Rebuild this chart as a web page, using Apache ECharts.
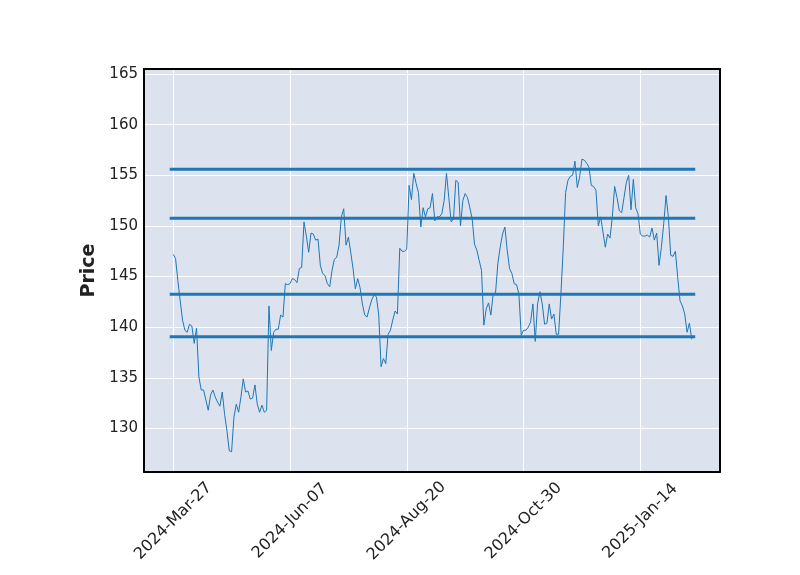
<!DOCTYPE html>
<html>
<head>
<meta charset="utf-8">
<script src="https://cdn.jsdelivr.net/npm/echarts@6/dist/echarts.min.js"></script>
<style>html,body{margin:0;padding:0;background:#fff;}#c{width:800px;height:575px;}</style>
</head>
<body>
<div id="c"></div>
<script>
const prices = [
147.2,146.8,144.6,142.6,140.7,139.7,139.5,140.3,140.1,138.4,
139.9,135.1,133.8,133.8,132.8,131.8,133.3,133.8,133.1,132.6,
132.2,133.6,131.4,129.8,127.8,127.7,131.1,132.4,131.6,133.1,
134.9,133.6,133.7,132.9,133.0,134.3,132.4,131.6,132.3,131.6,
131.8,142.1,137.7,139.5,139.8,139.8,141.2,141.0,144.3,144.2,
144.3,144.8,144.7,144.4,145.8,145.9,150.4,149.0,147.4,149.3,
149.2,148.6,148.7,146.1,145.3,145.1,144.3,144.0,145.6,146.7,
146.9,148.1,150.9,151.7,148.1,148.9,147.4,145.8,143.8,144.8,
143.9,142.3,141.2,141.0,141.9,142.7,143.2,143.0,141.2,136.1,
136.9,136.4,139.3,139.7,140.7,141.6,141.3,147.8,147.5,147.5,
147.7,154.0,152.6,155.2,154.2,153.3,149.9,151.8,150.9,151.7,
151.8,153.2,150.5,150.9,150.9,151.2,152.5,155.2,152.8,150.4,
150.7,154.5,154.3,150.0,152.5,153.2,152.8,151.8,150.7,148.2,
147.6,146.6,145.6,140.2,141.8,142.4,141.2,143.3,143.4,146.3,
147.9,149.2,149.9,147.6,145.8,145.3,144.3,144.2,143.3,139.2,
139.7,139.7,140.0,140.5,142.3,138.6,142.3,143.5,142.3,140.3,
140.4,142.3,140.8,141.3,139.3,139.3,143.3,147.9,153.3,154.5,
154.9,155.0,156.4,153.8,154.8,156.6,156.5,156.2,155.8,154.0,
153.9,153.5,150.0,150.9,149.4,147.9,149.2,148.8,150.9,153.9,
152.8,151.5,151.3,152.8,154.3,155.0,151.6,154.6,151.8,151.2,
149.2,149.0,149.0,149.1,148.9,149.8,148.6,149.3,146.1,147.9,
150.2,153.0,150.9,147.1,147.0,147.5,144.9,142.6,142.1,141.3,
139.5,140.4,138.8
];
const hlineLevels = [155.6, 150.75, 143.25, 139.05];
const tickIndex = [0, 50, 100, 150, 200];
const tickLabels = ['2024-Mar-27', '2024-Jun-07', '2024-Aug-20', '2024-Oct-30', '2025-Jan-14'];

const X_MIN = -12.5, X_MAX = 234.1, Y_MIN = 125.7, Y_MAX = 165.5;
const lineData = prices.map((v, i) => [i, v]);
const hStart = -1.5, hEnd = prices.length + 0.5;
const series = [{
  type: 'line', data: lineData, showSymbol: false, symbol: 'none',
  lineStyle: { color: '#1f77b4', width: 1 }, z: 3, silent: true
}];
hlineLevels.forEach(v => {
  series.push({
    type: 'line', data: [[hStart, v], [hEnd, v]], showSymbol: false, symbol: 'none',
    lineStyle: { color: '#1f77b4', width: 3 }, z: 2, silent: true
  });
});

const borderAxis = (pos, isX) => ({
  type: 'value', position: pos,
  min: isX ? X_MIN : Y_MIN, max: isX ? X_MAX : Y_MAX,
  axisLine: { show: true, onZero: false, lineStyle: { color: '#000', width: 2 } },
  axisTick: { show: false }, axisLabel: { show: false }, splitLine: { show: false },
  z: 10
});

const chart = echarts.init(document.getElementById('c'), null, { renderer: 'canvas' });
chart.setOption({
  animation: false,
  backgroundColor: '#ffffff',
  grid: { left: 144, top: 69, width: 576, height: 403, show: true, backgroundColor: '#DCE3EF', borderWidth: 0 },
  xAxis: [{
    type: 'value', min: X_MIN, max: X_MAX, splitNumber: 5,
    axisLine: { show: false }, axisTick: { show: false },
    splitLine: { show: true, lineStyle: { color: '#ffffff', width: 1 } },
    axisLabel: {
      showMinLabel: false, showMaxLabel: false,
      rotate: 45, align: 'center', verticalAlign: 'middle', margin: 49,
      fontFamily: 'DejaVu Sans', fontSize: 16, color: '#222',
      formatter: v => { const k = tickIndex.indexOf(Math.round(v)); return k >= 0 && Math.abs(v - tickIndex[k]) < 1e-6 ? tickLabels[k] : ''; }
    }
  }, borderAxis('bottom', true), borderAxis('top', true)],
  yAxis: [{
    type: 'value', min: Y_MIN, max: Y_MAX, splitNumber: 8,
    name: 'Price', nameLocation: 'middle', nameGap: 31,
    nameTextStyle: { fontFamily: 'DejaVu Sans', fontWeight: 'bold', fontSize: 19, color: '#222', padding: [10, 0, 0, 0] },
    axisLine: { show: false }, axisTick: { show: false },
    splitLine: { show: true, lineStyle: { color: '#ffffff', width: 1 } },
    axisLabel: { showMinLabel: false, showMaxLabel: false, margin: 6, fontFamily: 'DejaVu Sans', fontSize: 15, color: '#222' }
  }, borderAxis('left', false), borderAxis('right', false)],
  series: series
});
</script>
</body>
</html>
